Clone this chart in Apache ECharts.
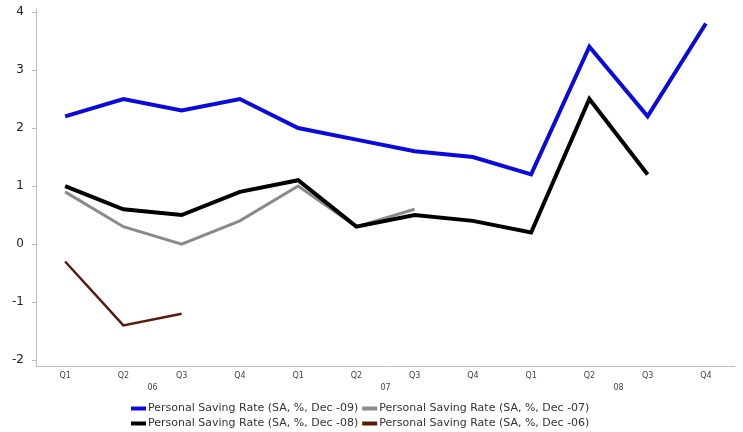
<!DOCTYPE html>
<html>
<head>
<meta charset="utf-8">
<script src="https://cdn.jsdelivr.net/npm/echarts@6/dist/echarts.min.js"></script>
<style>
  html, body { margin: 0; padding: 0; background: #fff; }
  #chart { width: 743px; height: 432px; }
</style>
</head>
<body>
<div id="chart"></div>
<script>
// Quarters and year groups along the bottom
const quarters = ['Q1', 'Q2', 'Q3', 'Q4', 'Q1', 'Q2', 'Q3', 'Q4', 'Q1', 'Q2', 'Q3', 'Q4'];
const years = ['06', '07', '08'];
const yTicks = [-2, -1, 0, 1, 2, 3, 4];

// Personal saving rate vintages (SA, %)
const dec09 = [2.2, 2.5, 2.3, 2.5, 2.0, 1.8, 1.6, 1.5, 1.2, 3.4, 2.2, 3.8];
const dec07 = [0.9, 0.3, 0.0, 0.4, 1.0, 0.3, 0.6, null, null, null, null, null];
const dec08 = [1.0, 0.6, 0.5, 0.9, 1.1, 0.3, 0.5, 0.4, 0.2, 2.5, 1.2, null];
const dec06 = [-0.3, -1.4, -1.2, null, null, null, null, null, null, null, null, null];

const names = [
  'Personal Saving Rate (SA, %, Dec -09)',
  'Personal Saving Rate (SA, %, Dec -07)',
  'Personal Saving Rate (SA, %, Dec -08)',
  'Personal Saving Rate (SA, %, Dec -06)'
];

const chart = echarts.init(document.getElementById('chart'), null, { renderer: 'canvas' });

function lineSeries(name, data, color, width, z) {
  return {
    name: name,
    type: 'line',
    data: data,
    showSymbol: false,
    symbol: 'none',
    connectNulls: false,
    z: z,
    itemStyle: { color: color },
    lineStyle: { color: color, width: width, cap: 'butt', join: 'miter' }
  };
}

chart.setOption({
  animation: false,
  backgroundColor: '#ffffff',
  grid: { left: 36, right: 8, top: 9, bottom: 66, containLabel: false },
  legend: {
    left: 131,
    top: 403,
    width: 500,
    padding: 0,
    itemGap: 4,
    itemWidth: 15,
    itemHeight: 4,
    icon: 'rect',
    data: names,
    textStyle: { fontFamily: 'DejaVu Sans', fontSize: 11, color: '#333', padding: [0, 0, 0, -3] }
  },
  xAxis: [
    {
      type: 'category',
      data: quarters,
      boundaryGap: true,
      axisLine: { show: true, onZero: false, lineStyle: { color: '#bdbdbd', width: 1 } },
      axisTick: { show: false },
      axisLabel: { fontFamily: 'DejaVu Sans', fontSize: 8, color: '#444', margin: 6, interval: 0 },
      splitLine: { show: false }
    },
    {
      type: 'category',
      data: years,
      position: 'bottom',
      offset: 13,
      boundaryGap: true,
      axisLine: { show: false, onZero: false },
      axisTick: { show: false },
      axisLabel: { fontFamily: 'DejaVu Sans', fontSize: 8, color: '#444', margin: 5, interval: 0 },
      splitLine: { show: false }
    }
  ],
  yAxis: {
    type: 'value',
    min: -2.1,
    max: 4.05,
    axisLine: { show: true, lineStyle: { color: '#bdbdbd', width: 1 } },
    axisTick: { show: true, length: 4, inside: false, lineStyle: { color: '#bdbdbd' }, customValues: yTicks },
    axisLabel: { fontFamily: 'DejaVu Sans', fontSize: 12, color: '#222', margin: 12, customValues: yTicks },
    splitLine: { show: false }
  },
  series: [
    lineSeries(names[0], dec09, '#0a0adf', 4, 5),
    lineSeries(names[1], dec07, '#8a8a8a', 3, 3),
    lineSeries(names[2], dec08, '#000000', 4, 4),
    lineSeries(names[3], dec06, '#5a1a10', 2.5, 2)
  ]
});
</script>
</body>
</html>
